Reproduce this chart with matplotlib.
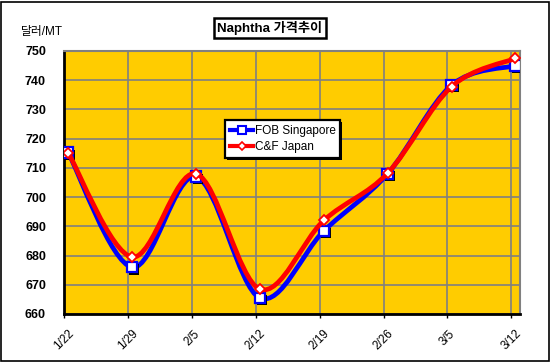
import matplotlib
matplotlib.use("Agg")
import matplotlib.pyplot as plt
import matplotlib.patheffects as pe
from matplotlib.path import Path
from matplotlib.patches import PathPatch, Rectangle
from matplotlib.lines import Line2D
import numpy as np

dates = ["1/22", "1/29", "2/5", "2/12", "2/19", "2/26", "3/5", "3/12"]
fob_singapore = [715.2, 676.0, 707.0, 665.5, 688.4, 708.0, 738.3, 745.0]
cf_japan = [715.2, 679.5, 708.0, 668.5, 692.0, 708.2, 737.8, 747.5]
yticks = [660, 670, 680, 690, 700, 710, 720, 730, 740, 750]

BG = "#FFCC00"
GRID = "#808080"
FONT = ["Liberation Sans", "Noto Sans CJK KR", "DejaVu Sans"]
plt.rcParams["font.family"] = FONT

fig = plt.figure(figsize=(5.5, 3.62), dpi=100)
ax = fig.add_axes([64 / 550, 1 - 314 / 362, 456 / 550, 263 / 362])
ax.set_facecolor(BG)

OFF = 0.065
x = np.arange(len(dates)) + OFF


def smooth_path(xs, ys):
    pts = np.column_stack([xs, ys])
    n = len(pts)
    verts = [pts[0]]
    codes = [Path.MOVETO]
    for i in range(n - 1):
        p0 = pts[i - 1] if i > 0 else pts[i]
        p1 = pts[i]
        p2 = pts[i + 1]
        p3 = pts[i + 2] if i + 2 < n else pts[i + 1]
        c1 = p1 + (p2 - p0) / 6.0
        c2 = p2 - (p3 - p1) / 6.0
        verts += [c1, c2, p2]
        codes += [Path.CURVE4] * 3
    return Path(verts, codes)


for ys, col, z in [(fob_singapore, "#0000FF", 3), (cf_japan, "#FF0000", 5)]:
    patch = PathPatch(smooth_path(x, ys), facecolor="none", edgecolor=col,
                      lw=3.4, transform=ax.transData, zorder=z, capstyle="round",
                      joinstyle="round")
    ax.add_patch(patch)

shadow = [pe.SimplePatchShadow(offset=(1.5, -1.5), shadow_rgbFace="black", alpha=1.0), pe.Normal()]
ax.plot(x, fob_singapore, ls="none", marker="s", ms=7.5, mfc="white", mec="#0000FF",
        mew=1.6, zorder=4, path_effects=shadow)
ax.plot(x, cf_japan, ls="none", marker="D", ms=5.5, mfc="white", mec="#FF0000",
        mew=1.3, zorder=6)

ax.set_xlim(0, 7.136)
ax.set_ylim(660, 750)
ax.set_yticks(yticks)
ax.set_yticklabels([str(v) for v in yticks], fontsize=9, fontweight="bold")
ax.set_xticks(np.arange(len(dates)))
ax.set_xticklabels(dates, fontsize=8.5, rotation=45, ha="center", va="top")
ax.tick_params(axis="y", length=0, pad=13)
ax.tick_params(axis="x", length=3, direction="out", width=1, pad=7)
ax.grid(True, color=GRID, lw=1.2)
ax.set_axisbelow(True)
for s in ["top", "right"]:
    ax.spines[s].set_color(GRID)
    ax.spines[s].set_linewidth(1.5)
for s in ["left", "bottom"]:
    ax.spines[s].set_color("black")
    ax.spines[s].set_linewidth(2)

handles = [
    Line2D([], [], color="#0000FF", lw=3, marker="s", ms=6, mfc="white", mec="#0000FF", mew=1.5),
    Line2D([], [], color="#FF0000", lw=3, marker="D", ms=4.5, mfc="white", mec="#FF0000", mew=1.2),
]
leg = ax.legend(handles, ["FOB Singapore", "C&F Japan"], loc="upper left",
                bbox_to_anchor=((225 - 64) / 456, (314 - 120) / 263), fontsize=8.5,
                frameon=True, fancybox=False, framealpha=1.0, handlelength=2.0,
                handletextpad=0.1, borderpad=0.4, labelspacing=0.4, borderaxespad=0)
leg.get_frame().set_facecolor("white")
leg.get_frame().set_edgecolor("black")
leg.get_frame().set_linewidth(1.6)
leg.get_frame().set_path_effects([pe.SimplePatchShadow(offset=(1.5, -1.5), shadow_rgbFace="black", alpha=1.0), pe.Normal()])
leg.set_zorder(10)

fig.text(270 / 550, 1 - 28 / 362, "Naphtha 가격추이", ha="center", va="center",
         fontsize=9.5, fontweight="bold", family=FONT,
         bbox=dict(boxstyle="square,pad=0.25", fc="white", ec="black", lw=1.8))
fig.text(42 / 550, 1 - 32 / 362, "달러/MT", ha="center", va="center", fontsize=8.5,
         family=FONT)

fig.patches.append(Rectangle((1 / 550, 1 / 362), 547.5 / 550, 359.5 / 362, transform=fig.transFigure,
                             fill=False, ec="black", lw=1.2))

fig.savefig("out.png", dpi=100)
